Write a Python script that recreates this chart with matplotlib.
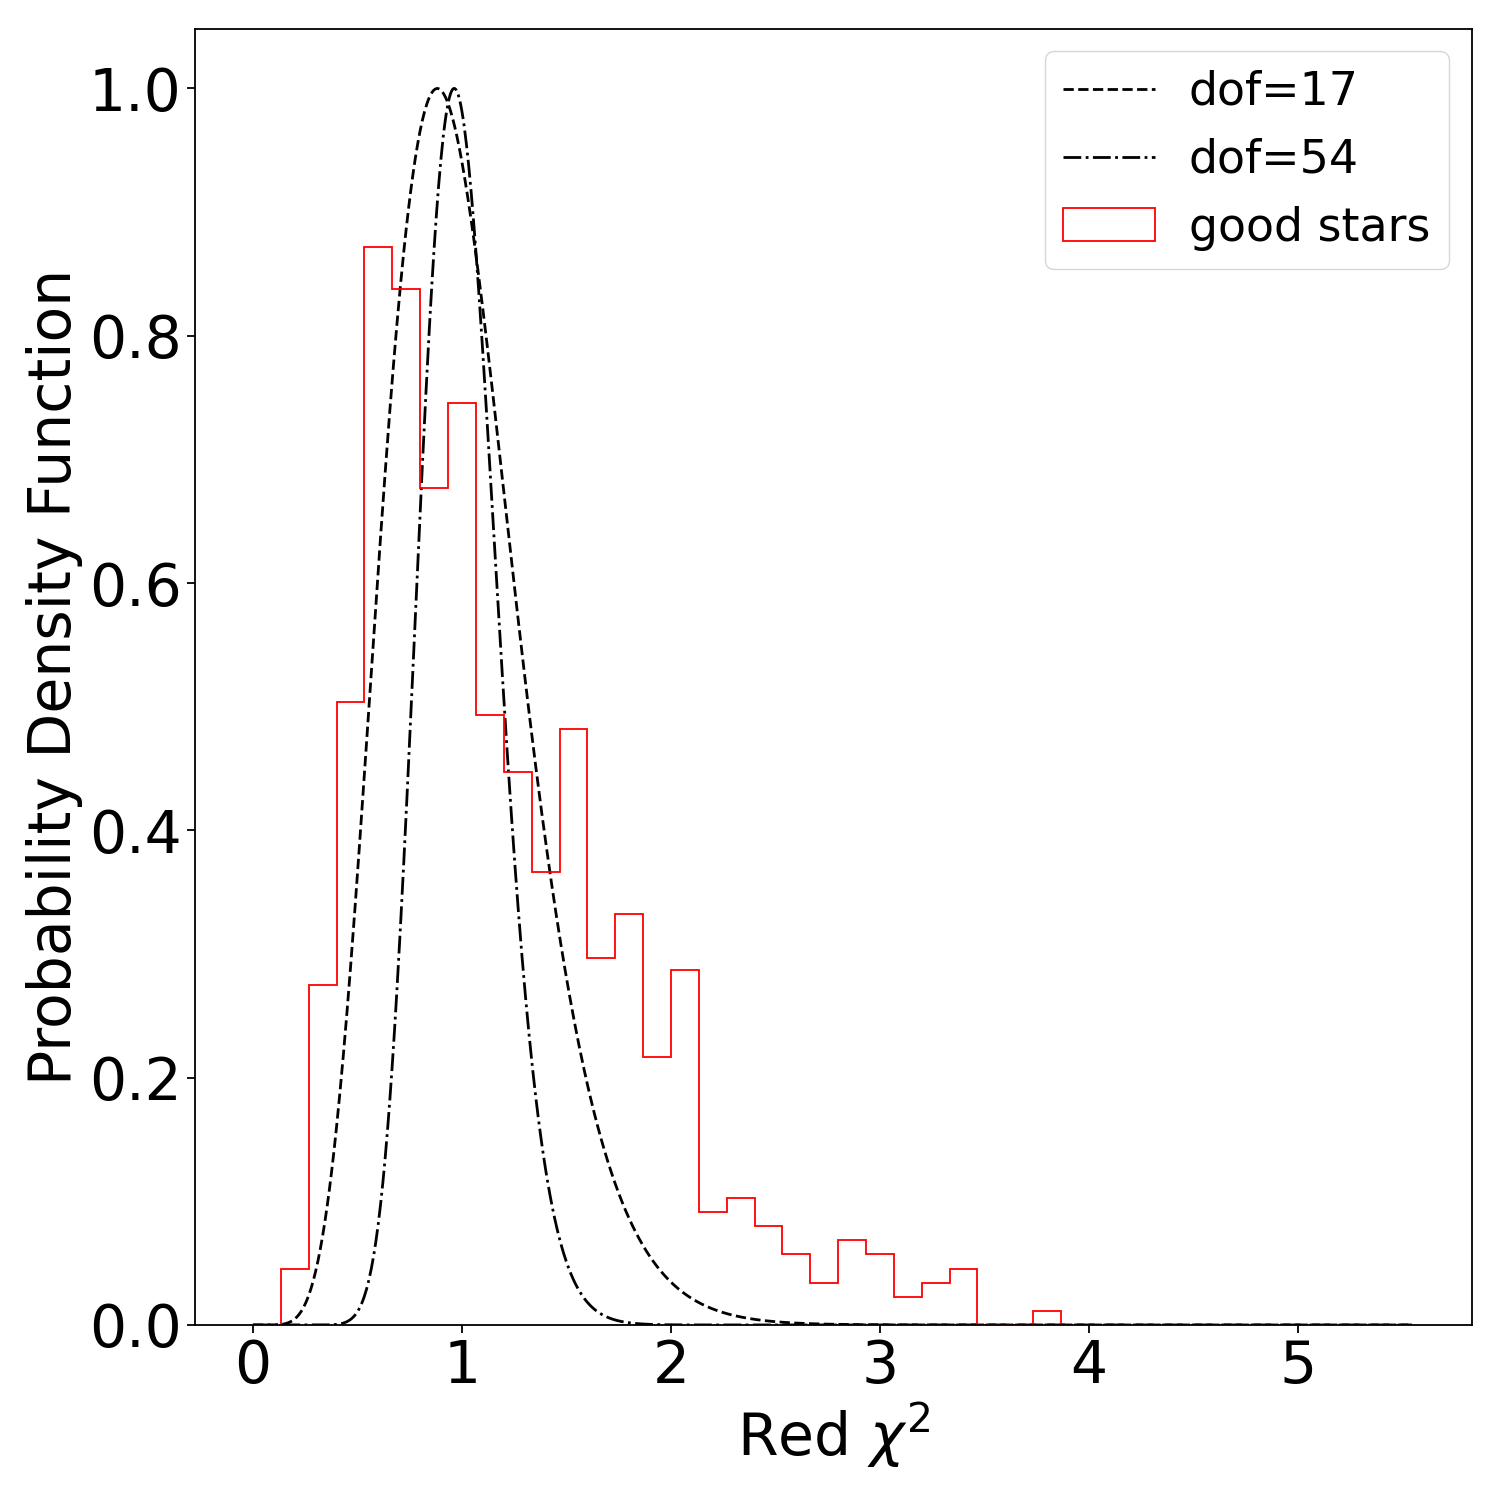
import numpy as np
import matplotlib
matplotlib.use('Agg')
import matplotlib.pyplot as plt

# histogram of reduced chi2 for the good stars (density)
bin_lo = 0.134
bin_w = 0.1333
density = [0.045, 0.275, 0.504, 0.872, 0.838, 0.677, 0.746, 0.493, 0.447, 0.366,
           0.482, 0.297, 0.332, 0.217, 0.287, 0.091, 0.103, 0.080, 0.057, 0.034,
           0.069, 0.057, 0.023, 0.034, 0.045, 0.0, 0.0, 0.011]

# theoretical curves
dofs = [17, 54]
styles = ['--', '-.']
x_max = 5.545

edges = bin_lo + bin_w * np.arange(len(density) + 1)


def red_chi2_shape(x, k):
    # reduced chi2 pdf, scaled to peak of 1
    with np.errstate(divide='ignore'):
        logp = (k / 2.0 - 1) * np.log(x) - k * x / 2.0
    logp = logp - np.nanmax(logp[np.isfinite(logp)])
    return np.exp(logp)


fig, ax = plt.subplots(figsize=(15, 15), dpi=100)

x = np.linspace(0, x_max, 1000)
for k, ls in zip(dofs, styles):
    ax.plot(x, red_chi2_shape(x, k), ls, color='black', lw=2, label='dof=%d' % k)

ax.hist(edges[:-1], bins=edges, weights=density, histtype='step', color='red',
        lw=1.3, label='good stars')

ax.set_xlim(-0.277, 5.83)
ax.set_ylim(0, 1.0485)
ax.set_xlabel('Red $\\chi^2$', fontsize=42)
ax.set_ylabel('Probability Density Function', fontsize=42)
ax.tick_params(labelsize=42, length=6, width=1.3)
for s in ax.spines.values():
    s.set_linewidth(1.3)
ax.legend(loc='upper right', fontsize=33, handletextpad=0.75)

fig.subplots_adjust(left=0.13, right=0.981, top=0.981, bottom=0.1167)
fig.savefig('out.png')
